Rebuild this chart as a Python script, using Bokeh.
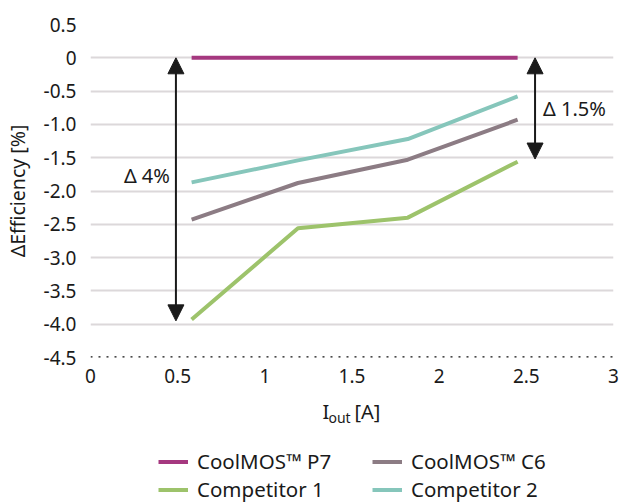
from bokeh.plotting import figure
from bokeh.layouts import column
from bokeh.models import (FixedTicker, Arrow, NormalHead, Label, Legend, LegendItem,
                          Span)
from bokeh.embed import file_html
from bokeh.resources import INLINE

# ---- data ----
i_out = [0.58, 1.19, 1.82, 2.45]
p7 = [0.0, 0.0, 0.0, 0.0]
c6 = [-2.43, -1.88, -1.53, -0.93]
comp1 = [-3.93, -2.56, -2.40, -1.56]
comp2 = [-1.87, -1.54, -1.22, -0.58]
series_names = ["CoolMOS™ P7", "CoolMOS™ C6", "Competitor 1", "Competitor 2"]
colors = ["#A5387F", "#8C7C84", "#9DC36B", "#86C6BB"]

x_ticks = [0, 0.5, 1, 1.5, 2, 2.5, 3]
x_tick_labels = ["0", "0.5", "1", "1.5", "2", "2.5", "3"]
y_ticks = [0.5, 0, -0.5, -1.0, -1.5, -2.0, -2.5, -3.0, -3.5, -4.0, -4.5]
y_tick_labels = ["0.5", "0", "-0.5", "-1.0", "-1.5", "-2.0", "-2.5", "-3.0", "-3.5", "-4.0", "-4.5"]

delta_big = (0.49, 0.0, -3.95, "Δ 4%")
delta_small = (2.55, 0.0, -1.52, "Δ 1.5%")

FONT = "Noto Sans"
TXT = "#1a1a1a"
W = 619
LEFT, RIGHT = 90, 6

p = figure(width=W, height=390, output_backend="svg", toolbar_location=None,
           x_range=(0, 3), y_range=(-4.5, 0.5),
           min_border_left=LEFT, min_border_right=RIGHT, min_border_top=24,
           min_border_bottom=33)
p.outline_line_color = None
p.background_fill_color = "white"
p.border_fill_color = "white"

# grid
p.xgrid.grid_line_color = None
p.ygrid.grid_line_color = "#DCD8DA"
p.ygrid.grid_line_width = 2
p.ygrid.ticker = FixedTicker(ticks=[t for t in y_ticks if t > -4.5])

# axes
p.xaxis.ticker = FixedTicker(ticks=x_ticks)
p.xaxis.major_label_overrides = {t: l for t, l in zip(x_ticks, x_tick_labels)}
p.yaxis.ticker = FixedTicker(ticks=y_ticks)
p.yaxis.major_label_overrides = {t: l for t, l in zip(y_ticks, y_tick_labels)}
for ax in (p.xaxis[0], p.yaxis[0]):
    ax.axis_line_color = None
    ax.major_tick_line_color = None
    ax.minor_tick_line_color = None
    ax.major_label_text_font = FONT
    ax.major_label_text_font_size = "19px"
    ax.major_label_text_color = TXT
p.xaxis.major_label_standoff = 5
p.yaxis.major_label_standoff = 8
p.yaxis.axis_label = "ΔEfficiency [%]"
p.yaxis.axis_label_text_font = FONT
p.yaxis.axis_label_text_font_size = "19.5px"
p.yaxis.axis_label_text_font_style = "normal"
p.yaxis.axis_label_text_color = TXT
p.yaxis.axis_label_standoff = 10

# dotted baseline
p.add_layout(Span(location=-4.5, dimension="width", line_color="#111111",
                  line_width=2.5, line_dash="2 6"))

# series
series = [p7, c6, comp1, comp2]
renderers = []
for ys, c in zip(series, colors):
    r = p.line(i_out, ys, line_color=c, line_width=4)
    renderers.append(r)

# arrows
head = dict(size=16, fill_color="#1a1a1a", line_color="#1a1a1a")
for (ax_, y0, y1, txt) in (delta_big, delta_small):
    p.add_layout(Arrow(x_start=ax_, y_start=y0 - 0.2, x_end=ax_, y_end=y0,
                       line_color="#1a1a1a", line_width=2, end=NormalHead(**head)))
    p.add_layout(Arrow(x_start=ax_, y_start=y1 + 0.2, x_end=ax_, y_end=y1,
                       line_color="#1a1a1a", line_width=2, end=NormalHead(**head)))
    p.segment(x0=[ax_], y0=[y0 - 0.1], x1=[ax_], y1=[y1 + 0.1],
              line_color="#1a1a1a", line_width=2)

p.add_layout(Label(x=delta_big[0], y=-1.77, text=delta_big[3], x_offset=-6,
                   text_align="right", text_baseline="middle",
                   text_font=FONT, text_font_size="20px", text_color=TXT))
p.add_layout(Label(x=delta_small[0], y=-0.76, text=delta_small[3], x_offset=8,
                   text_align="left", text_baseline="middle",
                   text_font=FONT, text_font_size="20px", text_color=TXT))

# ---- lower panel: x-axis title and legend (frame aligned with the chart above) ----
H2 = 113
q = figure(width=W, height=H2, output_backend="svg", toolbar_location=None,
           x_range=(LEFT, W - RIGHT), y_range=(0, H2),
           x_axis_type=None, y_axis_type=None,
           min_border_left=LEFT, min_border_right=RIGHT,
           min_border_top=0, min_border_bottom=0)
q.outline_line_color = None
q.grid.visible = False

q.add_layout(Label(x=322, y=H2 - 21, text="I", text_align="left",
                   text_baseline="middle", text_font=FONT, text_font_size="20px",
                   text_color=TXT))
q.add_layout(Label(x=328, y=H2 - 27, text="out", text_align="left",
                   text_baseline="middle", text_font=FONT, text_font_size="14px",
                   text_color=TXT))
q.add_layout(Label(x=354, y=H2 - 21, text="[A]", text_align="left",
                   text_baseline="middle", text_font=FONT, text_font_size="20px",
                   text_color=TXT))

# legend proxies (same series; they fall outside this panel's frame)
proxies = [q.line(i_out, ys, line_color=c, line_width=4) for ys, c in zip(series, colors)]

def make_legend(idx, loc):
    items = [LegendItem(label=series_names[i], renderers=[proxies[i]]) for i in idx]
    return Legend(items=items, location=loc, orientation="vertical",
                  label_text_font=FONT, label_text_font_size="20.5px", label_text_color=TXT,
                  glyph_width=30, glyph_height=27, label_standoff=9, spacing=0,
                  label_height=27, padding=0, margin=0, border_line_color=None,
                  background_fill_alpha=0)

q.add_layout(make_legend([0, 2], (158 - LEFT, 0)))
q.add_layout(make_legend([1, 3], (372 - LEFT, 0)))

open("out.html", "w").write(file_html(column(p, q, spacing=0), INLINE))
